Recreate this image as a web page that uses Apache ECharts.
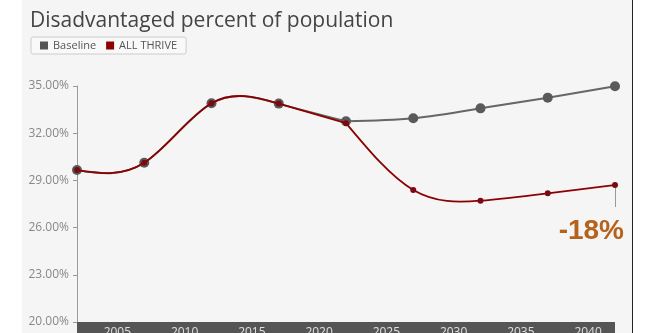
<!DOCTYPE html>
<html>
<head>
<meta charset="utf-8">
<script src="https://cdn.jsdelivr.net/npm/echarts@6/dist/echarts.min.js"></script>
<style>
html,body{margin:0;padding:0;background:#fff;}
#bg{position:absolute;left:22px;top:0;width:610px;height:333px;background:#f5f5f5;border-right:1px solid #222;}
#chart{position:absolute;left:0;top:0;width:646px;height:333px;}
</style>
</head>
<body>
<div id="bg"></div>
<div id="chart"></div>
<script>
const years = [2002, 2007, 2012, 2017, 2022, 2027, 2032, 2037, 2042];
const baseline = [29.66, 30.12, 33.90, 33.88, 32.76, 32.95, 33.58, 34.26, 34.98];
const allThrive = [29.66, 30.12, 33.90, 33.88, 32.64, 28.39, 27.71, 28.18, 28.71];
const yTicks = [20, 23, 26, 29, 32, 35];
const xLabelYears = [2005, 2010, 2015, 2020, 2025, 2030, 2035, 2040];
const lastHistoryIndex = 4; // 2022: history ends, projections start

const lastIdx = years.length - 1;
const change = Math.round((allThrive[lastIdx] - baseline[lastIdx]) / baseline[lastIdx] * 100);

// natural cubic spline control points (as in d3 curveNatural)
function controlPoints(x) {
  const n = x.length - 1, a = new Array(n), b = new Array(n), r = new Array(n);
  let i, m;
  a[0] = 0; b[0] = 2; r[0] = x[0] + 2 * x[1];
  for (i = 1; i < n - 1; ++i) { a[i] = 1; b[i] = 4; r[i] = 4 * x[i] + 2 * x[i + 1]; }
  a[n - 1] = 2; b[n - 1] = 7; r[n - 1] = 8 * x[n - 1] + x[n];
  for (i = 1; i < n; ++i) { m = a[i] / b[i - 1]; b[i] -= m; r[i] -= m * r[i - 1]; }
  a[n - 1] = r[n - 1] / b[n - 1];
  for (i = n - 2; i >= 0; --i) a[i] = (r[i] - a[i + 1]) / b[i];
  b[n - 1] = (x[n] + a[n - 1]) / 2;
  for (i = 0; i < n - 1; ++i) b[i] = 2 * x[i + 1] - a[i + 1];
  return [a, b];
}
function splinePath(pts) {
  const xs = pts.map(p => p[0]), ys = pts.map(p => p[1]);
  const px = controlPoints(xs), py = controlPoints(ys);
  let d = 'M' + xs[0] + ',' + ys[0];
  for (let i = 0; i < xs.length - 1; i++) {
    d += 'C' + px[0][i] + ',' + py[0][i] + ',' + px[1][i] + ',' + py[1][i] + ',' + xs[i + 1] + ',' + ys[i + 1];
  }
  return d;
}
function splineItem(values, color, width) {
  return function (params, api) {
    if (params.dataIndex !== 0) return null;
    const pts = years.map((y, i) => api.coord([y, values[i]]));
    const d = splinePath(pts.slice(0, lastHistoryIndex + 1)) + splinePath(pts.slice(lastHistoryIndex));
    return {
      type: 'path',
      shape: {pathData: d},
      style: {fill: null, stroke: color, lineWidth: width}
    };
  };
}

const chart = echarts.init(document.getElementById('chart'), null, {renderer: 'canvas'});
const option = {
  backgroundColor: 'transparent',
  animation: false,
  title: {
    text: 'Disadvantaged percent of population',
    left: 25, top: 6,
    textStyle: {fontFamily: 'Open Sans', fontSize: 21, fontWeight: 'normal', color: '#444'}
  },
  legend: {
    left: 31, top: 37,
    data: [
      {name: 'Baseline', icon: 'rect', itemStyle: {color: '#555'}},
      {name: 'ALL THRIVE', icon: 'rect', itemStyle: {color: '#8b0000'}}
    ],
    itemWidth: 8, itemHeight: 8, itemGap: 10,
    padding: [3, 9, 3, 9],
    backgroundColor: '#f9f9f9', borderColor: '#ccc', borderWidth: 1, borderRadius: 2,
    textStyle: {fontFamily: 'Open Sans', fontSize: 11, color: '#555'}
  },
  grid: {left: 77, right: 31, top: 86, bottom: 11, containLabel: false, outerBoundsMode: 'none'},
  xAxis: {
    type: 'value', min: years[0], max: years[lastIdx], interval: 1,
    offset: 12,
    axisLine: {show: true, lineStyle: {color: '#555', width: 24, cap: 'butt'}},
    axisTick: {show: false},
    splitLine: {show: false},
    axisLabel: {
      margin: -7, color: '#e0e0e0', fontFamily: 'Open Sans', fontSize: 12,
      formatter: v => xLabelYears.indexOf(v) >= 0 ? String(v) : ''
    }
  },
  yAxis: {
    type: 'value', min: yTicks[0], max: yTicks[yTicks.length - 1], interval: 3,
    axisLine: {show: true, lineStyle: {color: '#999', width: 1}},
    axisTick: {show: true, length: 4, lineStyle: {color: '#999'}},
    splitLine: {show: false},
    axisLabel: {
      margin: 8, color: '#888', fontFamily: 'Open Sans', fontSize: 12,
      formatter: v => v.toFixed(2) + '%'
    }
  },
  series: [
    {
      type: 'custom', silent: true, z: 2,
      data: years.map((y, i) => [y, baseline[i]]),
      renderItem: splineItem(baseline, '#666', 2)
    },
    {
      name: 'Baseline', type: 'line',
      data: years.map((y, i) => [y, baseline[i]]),
      symbol: 'circle', symbolSize: 10,
      lineStyle: {width: 0, opacity: 0},
      itemStyle: {color: '#5a5a5a'},
      z: 3
    },
    {
      type: 'custom', silent: true, z: 4,
      data: years.map((y, i) => [y, allThrive[i]]),
      renderItem: splineItem(allThrive, '#8b0000', 1.8)
    },
    {
      name: 'ALL THRIVE', type: 'line',
      data: years.map((y, i) => [y, allThrive[i]]),
      symbol: 'circle', symbolSize: 6,
      lineStyle: {width: 0, opacity: 0},
      itemStyle: {color: '#7a0a12'},
      z: 5,
      markLine: {
        silent: true, symbol: 'none',
        lineStyle: {color: '#999', width: 1, type: 'solid'},
        label: {show: false},
        data: [[{coord: [years[lastIdx], allThrive[lastIdx]]}, {coord: [years[lastIdx], allThrive[lastIdx] - 1.4]}]]
      }
    }
  ],
  graphic: [{
    type: 'text', right: 22, top: 217,
    style: {text: change + '%', fill: '#b5621c', font: 'bold 28px "Liberation Sans", Arial, sans-serif'}
  }]
};
chart.setOption(option);
</script>
</body>
</html>
